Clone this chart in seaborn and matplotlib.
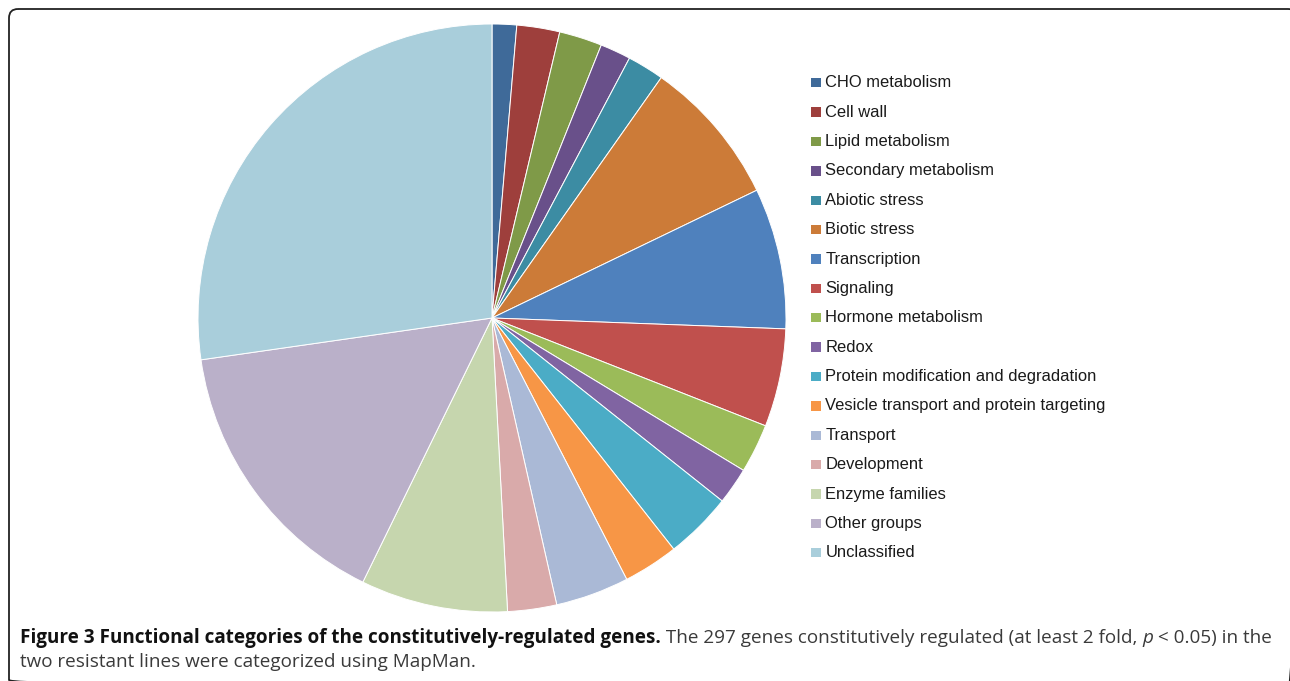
import matplotlib
matplotlib.use("Agg")
import matplotlib.pyplot as plt
from matplotlib.patches import FancyBboxPatch, Rectangle
import pandas as pd
import seaborn as sns

# MapMan functional categories of the 297 constitutively regulated genes
categories = [
    "CHO metabolism", "Cell wall", "Lipid metabolism", "Secondary metabolism",
    "Abiotic stress", "Biotic stress", "Transcription", "Signaling",
    "Hormone metabolism", "Redox", "Protein modification and degradation",
    "Vesicle transport and protein targeting", "Transport", "Development",
    "Enzyme families", "Other groups", "Unclassified",
]
gene_counts = [4, 7, 7, 5, 6, 24, 23, 16, 8, 6, 11, 9, 12, 8, 24, 46, 81]
slice_colors = [
    "#3F6A99", "#9E3F3C", "#7F9A48", "#69508A", "#3C8CA3", "#CC7B38",
    "#4F81BD", "#C0504D", "#9BBB59", "#8064A2", "#4BACC6", "#F79646",
    "#AAB9D6", "#D9AAAA", "#C6D6AE", "#BAB0C9", "#A9CEDB",
]

df = pd.DataFrame({"category": categories, "genes": gene_counts})
palette = sns.color_palette(slice_colors)

sns.set_theme(style="white")
plt.rcParams["font.family"] = ["Liberation Sans", "DejaVu Sans"]
cap_family = ["Open Sans", "DejaVu Sans"]

W, H = 1290, 681
fig = plt.figure(figsize=(W / 100, H / 100), dpi=100)
fig.patch.set_facecolor("white")


def px_rect(x0, y0, w, h):
    return [x0 / W, 1 - (y0 + h) / H, w / W, h / H]


# Pie chart, drawn clockwise from 12 o'clock
cx, cy, r = 492, 318, 294
ax = fig.add_axes(px_rect(cx - r, cy - r, 2 * r, 2 * r))
ax.pie(df["genes"], colors=palette, startangle=90, counterclock=False,
       radius=1, wedgeprops=dict(edgecolor="white", linewidth=0.7))
ax.set_xlim(-1, 1)
ax.set_ylim(-1, 1)
ax.set_aspect("equal")
ax.axis("off")

# Overlay in pixel coordinates for legend, caption and frame
ov = fig.add_axes([0, 0, 1, 1], zorder=5)
ov.set_xlim(0, W)
ov.set_ylim(H, 0)
ov.axis("off")
ov.patch.set_alpha(0)

# Legend
leg_x, leg_y0, leg_dy = 811, 87.3, 29.375
for i, (name, col) in enumerate(zip(df["category"], palette)):
    y = leg_y0 + i * leg_dy
    ov.add_patch(Rectangle((leg_x, y - 9.2), 9.5, 9.3, facecolor=col,
                           edgecolor="none"))
    ov.text(leg_x + 14.3, y, name, fontsize=11.9, color="#1a1a1a",
            va="baseline", ha="left", family=["Liberation Sans", "DejaVu Sans"])

# Frame around the figure panel (right and bottom sides run off the page)
ov.add_patch(FancyBboxPatch((9, 9), 1288, 680,
                            boxstyle="round,pad=0,rounding_size=9",
                            facecolor="none", edgecolor="#222222",
                            linewidth=1.3))

# Caption, laid out segment by segment
line1 = [
    ("Figure 3 Functional categories of the constitutively-regulated genes.", "bold", "normal", "#111111"),
    (" The 297 genes constitutively regulated (at least 2 fold, ", "normal", "normal", "#3a3a3a"),
    ("p", "normal", "italic", "#3a3a3a"),
    (" < 0.05) in the", "normal", "normal", "#3a3a3a"),
]
line2 = "two resistant lines were categorized using MapMan."

renderer = fig.canvas.get_renderer()


def layout_line(segments, x0, y, size):
    arts = []
    x = x0
    for txt, weight, style, col in segments:
        t = ov.text(x, y, txt, fontsize=size, fontweight=weight, fontstyle=style,
                    color=col, va="baseline", ha="left", family=cap_family)
        bb = t.get_window_extent(renderer)
        x += bb.width
        arts.append(t)
    return arts, x - x0


size0 = 12.0
arts, width = layout_line(line1, 20, 643, size0)
for a in arts:
    a.remove()
size = size0 * 1246 / width
layout_line(line1, 20, 643, size)
ov.text(20, 667, line2, fontsize=size, color="#3a3a3a", va="baseline",
        ha="left", family=cap_family)

fig.savefig("out.png", dpi=100, facecolor="white")
